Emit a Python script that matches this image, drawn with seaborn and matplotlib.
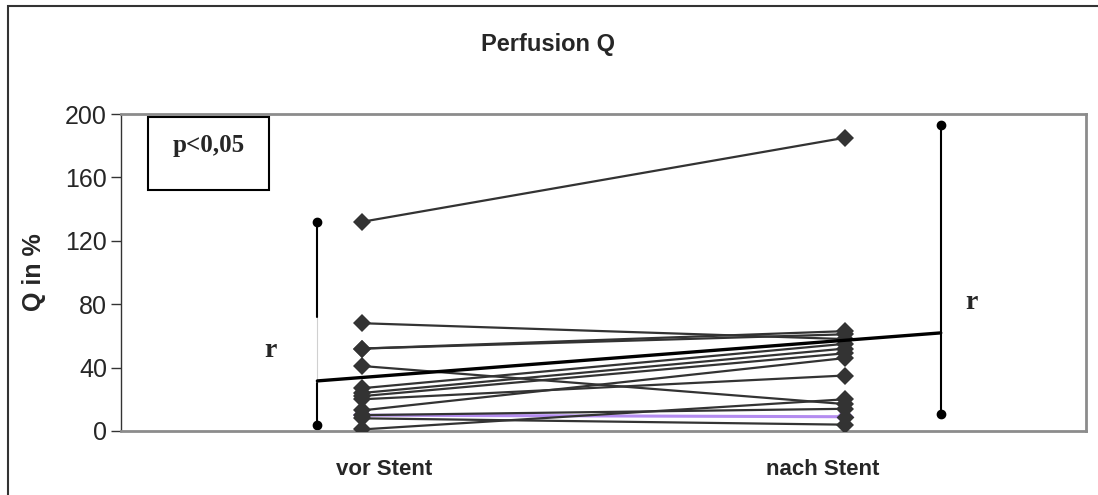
import matplotlib
matplotlib.use("Agg")
import matplotlib.pyplot as plt
import seaborn as sns
import pandas as pd
from matplotlib.patches import Rectangle

# Perfusion Q (in %) per patient, before and after stenting
phases = ["vor Stent", "nach Stent"]
q_vor = [132, 68, 52, 52, 41, 27, 24, 22, 20, 13, 10, 10, 8, 1]
q_nach = [185, 58, 63, 61, 17, 55, 52, 49, 35, 46, 14, 9, 4, 20]
highlight_patient = 11  # drawn in violet

# trend line and range bars (x in category units: 0 = vor, 1 = nach)
trend_x = [-0.093, 1.199]
trend_y = [31.6, 61.9]
range_x = [-0.093, 1.199]
range_lo = [4, 11]
range_hi = [132, 193]
left_gap = [30, 72]          # light part of the left bar behind the "r"
r_label_x = [-0.19, 1.263]
r_label_y = [51, 81]

y_ticks = [0, 40, 80, 120, 160, 200]
phase_label_x = [0.045, 0.955]

sns.set_theme(style="white")
plt.rcParams["font.family"] = ["Liberation Sans", "DejaVu Sans"]

rows = []
for pid, (a, b) in enumerate(zip(q_vor, q_nach)):
    rows.append({"patient": pid, "pos": 0, "Q": a})
    rows.append({"patient": pid, "pos": 1, "Q": b})
df = pd.DataFrame(rows)

fig = plt.figure(figsize=(10.98, 4.95), dpi=100)
ax = fig.add_axes([121 / 1098, 1 - 431 / 495, 965 / 1098, 317 / 495])

dark = "#333333"
main = df[df["patient"] != highlight_patient]
hi = df[df["patient"] == highlight_patient]
sns.lineplot(data=hi, x="pos", y="Q", units="patient", estimator=None,
             color="#b48cf0", lw=2.2, marker="D", markersize=9.5,
             markeredgewidth=0, ax=ax, legend=False, zorder=3)
sns.lineplot(data=main, x="pos", y="Q", units="patient", estimator=None,
             color=dark, lw=1.6, marker="D", markersize=9.5,
             markeredgewidth=0, ax=ax, legend=False, zorder=4)
# dark marker on top of the violet series
sns.scatterplot(data=hi, x="pos", y="Q", marker="D", s=82, color=dark,
                linewidth=0, ax=ax, legend=False, zorder=5)

# range bars with end points
for i, (x, lo, hi_v) in enumerate(zip(range_x, range_lo, range_hi)):
    if i == 0:
        ax.plot([x, x], [lo, left_gap[0]], color="black", lw=1.5, zorder=2)
        ax.plot([x, x], [left_gap[1], hi_v], color="black", lw=1.5, zorder=2)
        ax.plot([x, x], left_gap, color="#d0d0d0", lw=0.8, zorder=1)
    else:
        ax.plot([x, x], [lo, hi_v], color="black", lw=1.5, zorder=2)
    ax.plot([x, x], [lo, hi_v], ls="none", marker="o", markersize=6,
            color="black", zorder=2)

# trend line
ax.plot(trend_x, trend_y, color="black", lw=2.4, zorder=6)

for x, y in zip(r_label_x, r_label_y):
    ax.text(x, y, "r", fontsize=20, fontweight="bold",
            family=["Liberation Serif", "DejaVu Serif"],
            ha="center", va="center")

ax.set_xlim(-0.5, 1.5)
ax.set_ylim(0, 200)
ax.set_yticks(y_ticks)
ax.set_yticklabels([str(t) for t in y_ticks], fontsize=18)
ax.set_xticks([])
ax.set_xlabel("")
ax.set_ylabel("Q in %", fontsize=18, fontweight="bold")
ax.yaxis.set_label_coords(-0.078, 0.5)
ax.tick_params(axis="y", direction="out", length=7, width=1, color="#333333",
               left=True, pad=3)

for x, lab in zip(phase_label_x, phases):
    ax.text(x, -0.12, lab, transform=ax.get_xaxis_transform(),
            ha="center", va="center", fontsize=16, fontweight="bold")

for side in ["top", "right", "bottom"]:
    ax.spines[side].set_color("#8c8c8c")
    ax.spines[side].set_linewidth(2)
ax.spines["left"].set_color("#333333")
ax.spines["left"].set_linewidth(1)

# significance box
ax.add_patch(Rectangle((0.028, 0.760), 0.125, 0.231, transform=ax.transAxes,
                       fill=False, ec="black", lw=1.5, zorder=7))
ax.text(0.0905, 0.902, "p<0,05", transform=ax.transAxes, ha="center",
        va="center", fontsize=18, fontweight="bold",
        family=["Liberation Serif", "DejaVu Serif"])

fig.text(0.499, 1 - 45 / 495, "Perfusion Q", ha="center", va="center",
         fontsize=17, fontweight="bold")

# outer chart frame
fig.patches.append(Rectangle((8 / 1098, -0.1), 1.5, 1.1 - 6 / 495,
                             transform=fig.transFigure, fill=False,
                             ec="#333333", lw=1.5))

fig.savefig("out.png", dpi=100)
